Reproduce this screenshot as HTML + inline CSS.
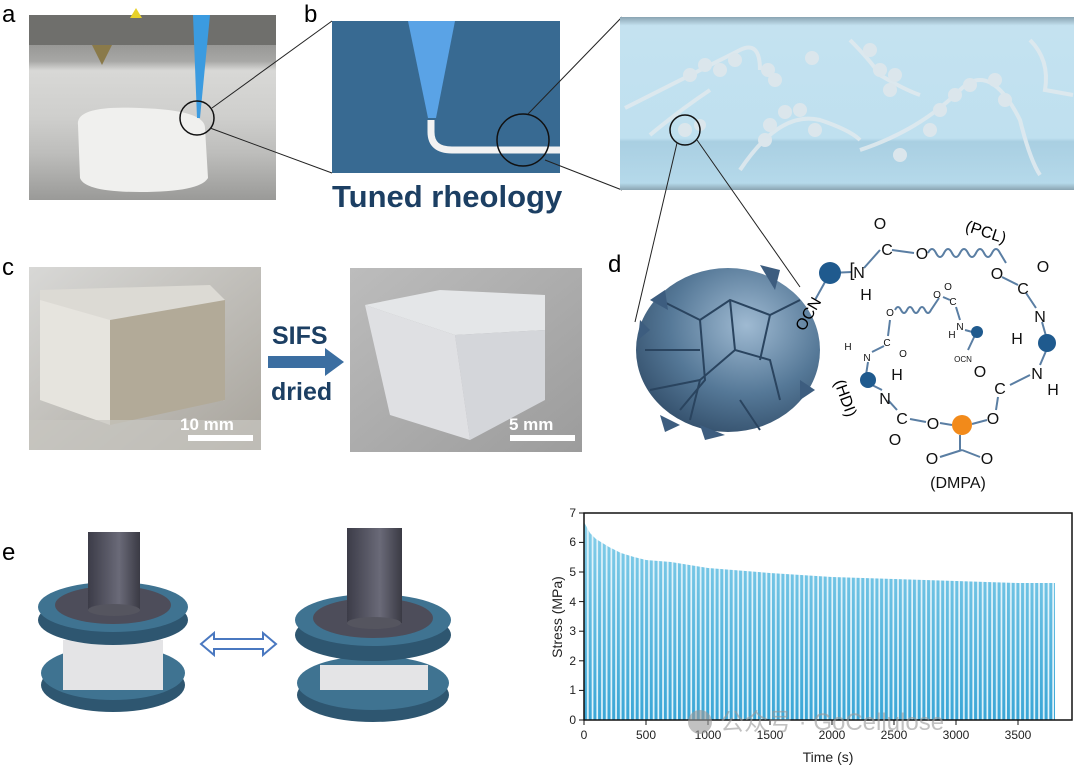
<!DOCTYPE html>
<html><head><meta charset="utf-8"><style>
body{margin:0;background:#fff;width:1074px;height:768px;overflow:hidden}
svg{display:block}
text{font-family:"Liberation Sans",Arial,sans-serif}
</style></head><body>
<svg width="1074" height="768" viewBox="0 0 1074 768" xmlns="http://www.w3.org/2000/svg">
<defs>
<linearGradient id="pa" x1="0" y1="0" x2="0" y2="1">
<stop offset="0" stop-color="#7a7a78"/><stop offset="0.25" stop-color="#a8a8a6"/><stop offset="0.3" stop-color="#d8d8d6"/><stop offset="0.55" stop-color="#cfcfcd"/><stop offset="0.75" stop-color="#bdbdbb"/><stop offset="1" stop-color="#9a9a98"/></linearGradient>
<linearGradient id="tube" x1="0" y1="0" x2="0" y2="1">
<stop offset="0" stop-color="#8aa4b2"/><stop offset="0.05" stop-color="#c4e2f0"/><stop offset="0.7" stop-color="#bfe0ef"/><stop offset="0.72" stop-color="#a9cfe2"/><stop offset="0.96" stop-color="#b5d9ea"/><stop offset="1" stop-color="#8aa4b2"/></linearGradient>
<linearGradient id="c1" x1="0" y1="0" x2="1" y2="1">
<stop offset="0" stop-color="#d8d8d6"/><stop offset="1" stop-color="#a8a49c"/></linearGradient>
<linearGradient id="c2" x1="0" y1="0" x2="1" y2="1">
<stop offset="0" stop-color="#bcbcbc"/><stop offset="1" stop-color="#9c9c9c"/></linearGradient>
<radialGradient id="sph" cx="0.6" cy="0.35" r="0.7">
<stop offset="0" stop-color="#9fbad2"/><stop offset="0.6" stop-color="#557897"/><stop offset="1" stop-color="#34506c"/></radialGradient>
<linearGradient id="rod" x1="0" y1="0" x2="1" y2="0">
<stop offset="0" stop-color="#3c3c48"/><stop offset="0.6" stop-color="#6a6a78"/><stop offset="1" stop-color="#3a3a44"/></linearGradient>
<linearGradient id="bar" x1="0" y1="0" x2="0" y2="1">
<stop offset="0" stop-color="#8fd4ec"/><stop offset="1" stop-color="#3aa6d6"/></linearGradient>
<pattern id="stripes" x="584" y="500" width="4.7" height="220" patternUnits="userSpaceOnUse">
<rect width="4.7" height="220" fill="#e2f3fa"/><rect width="3" height="220" fill="url(#bar)"/></pattern>
<clipPath id="env"><path d="M584,720 L584,522 590,533 596,539 609,547 621,553 634,557 646,560 671,562 708,568 770,573 832,577 894,579 956,581 1018,583 1055,583 1055,720Z"/></clipPath>
</defs>

<!-- panel a -->
<text x="2" y="22" font-size="24">a</text>
<rect x="29" y="15" width="247" height="185" fill="url(#pa)"/>
<rect x="29" y="15" width="247" height="30" fill="#6f6f6c"/>
<polygon points="130,18 142,18 136,8" fill="#e8d12a"/>
<polygon points="92,45 112,45 102,65" fill="#8a7a4a"/>
<path d="M78,125 Q75,105 140,108 Q205,110 205,128 L208,178 Q200,192 140,192 Q85,192 80,178Z" fill="#f0f0ee"/>
<polygon points="193,15 210,15 200,118 197,118" fill="#3b9be0"/>
<circle cx="197" cy="118" r="17" fill="none" stroke="#111" stroke-width="1.5"/>
<line x1="212" y1="108" x2="332" y2="21" stroke="#222" stroke-width="1"/>
<line x1="210" y1="128" x2="332" y2="173" stroke="#222" stroke-width="1"/>

<!-- panel b -->
<text x="304" y="22" font-size="24">b</text>
<rect x="332" y="21" width="228" height="152" fill="#386a92"/>
<polygon points="408,21 455,21 436,118 428,118" fill="#5aa3e6"/>
<path d="M431,120 L431,132 Q431,150 452,150 L560,150" fill="none" stroke="#f2f2f2" stroke-width="7"/>
<circle cx="523" cy="140" r="26" fill="none" stroke="#111" stroke-width="1.5"/>
<line x1="528" y1="114" x2="622" y2="17" stroke="#222" stroke-width="1"/>
<line x1="545" y1="160" x2="622" y2="190" stroke="#222" stroke-width="1"/>
<text x="332" y="207" font-size="31" font-weight="bold" fill="#1c3f63">Tuned rheology</text>

<!-- tube -->
<rect x="620" y="17" width="454" height="173" fill="url(#tube)"/>
<g fill="none" stroke="#dfe9ee" stroke-width="4" opacity="0.9">
<path d="M625,108 Q700,70 740,50 Q760,40 760,70"/>
<path d="M650,135 Q680,110 710,90"/>
<path d="M740,170 Q780,110 820,120 Q850,130 860,140"/>
<path d="M860,150 Q920,130 960,90 Q990,60 1020,120 Q1030,160 1040,175"/>
<path d="M850,40 Q870,60 880,75 Q905,90 920,95"/>
<path d="M1030,40 Q1050,60 1045,90 L1073,95"/>
</g>
<g fill="#dbe6ec">
<circle cx="690" cy="75" r="7"/><circle cx="705" cy="65" r="7"/><circle cx="720" cy="70" r="7"/><circle cx="735" cy="60" r="7"/><circle cx="768" cy="70" r="7"/><circle cx="775" cy="80" r="7"/><circle cx="812" cy="58" r="7"/>
<circle cx="685" cy="130" r="7"/><circle cx="700" cy="125" r="6"/>
<circle cx="770" cy="125" r="7"/><circle cx="785" cy="112" r="7"/><circle cx="800" cy="110" r="7"/><circle cx="815" cy="130" r="7"/><circle cx="765" cy="140" r="7"/>
<circle cx="870" cy="50" r="7"/><circle cx="880" cy="70" r="7"/><circle cx="895" cy="75" r="7"/><circle cx="890" cy="90" r="7"/>
<circle cx="940" cy="110" r="7"/><circle cx="955" cy="95" r="7"/><circle cx="970" cy="85" r="7"/><circle cx="995" cy="80" r="7"/><circle cx="1005" cy="100" r="7"/><circle cx="930" cy="130" r="7"/><circle cx="900" cy="155" r="7"/>
</g>
<circle cx="685" cy="130" r="15" fill="none" stroke="#111" stroke-width="1.5"/>
<line x1="677" y1="143" x2="635" y2="322" stroke="#222" stroke-width="1"/>
<line x1="697" y1="140" x2="800" y2="287" stroke="#222" stroke-width="1"/>

<!-- panel c -->
<text x="2" y="275" font-size="24">c</text>
<rect x="29" y="267" width="232" height="183" fill="url(#c1)"/>
<polygon points="40,290 210,285 225,300 225,400 110,420 40,395" fill="#dcdad4"/>
<polygon points="110,320 225,300 225,400 110,425" fill="#b2aa98"/>
<polygon points="40,300 110,320 110,425 40,400" fill="#e6e4de"/>
<rect x="29" y="420" width="232" height="30" fill="#c8c6c0" opacity="0.7"/>
<text x="180" y="430" font-size="17" font-weight="bold" fill="#fff">10 mm</text>
<rect x="188" y="435" width="65" height="6" fill="#fff"/>
<text x="272" y="344" font-size="25" font-weight="bold" fill="#1c3f63">SIFS</text>
<polygon points="268,356 325,356 325,348 344,362 325,376 325,368 268,368" fill="#3b6ea1"/>
<text x="271" y="400" font-size="25" font-weight="bold" fill="#1c3f63">dried</text>
<rect x="350" y="268" width="232" height="184" fill="url(#c2)"/>
<polygon points="365,305 440,290 545,295 545,330 455,335" fill="#e4e6e8"/>
<polygon points="455,335 545,330 545,400 470,440" fill="#d4d6da"/>
<polygon points="365,305 455,335 470,440 390,415" fill="#dfe0e3"/>
<text x="509" y="430" font-size="17" font-weight="bold" fill="#fff">5 mm</text>
<rect x="510" y="435" width="65" height="6" fill="#fff"/>

<!-- panel d -->
<text x="608" y="272" font-size="24">d</text>
<ellipse cx="728" cy="350" rx="92" ry="82" fill="url(#sph)"/>
<g stroke="#2a445f" stroke-width="2" fill="none">
<path d="M660,300 L700,320 L730,300 L770,315 L800,300"/><path d="M700,320 L705,380 L680,410"/><path d="M730,300 L735,350 L770,360 L780,400"/><path d="M735,350 L700,380 L690,420"/><path d="M645,350 L700,350"/><path d="M770,315 L760,360"/><path d="M650,390 L700,380"/><path d="M740,400 L760,430"/>
</g>
<g fill="#3d5d7f"><polygon points="760,265 780,270 775,290"/><polygon points="640,320 650,330 638,340"/><polygon points="800,380 815,390 800,400"/><polygon points="700,425 725,435 705,440"/><polygon points="650,300 665,290 668,310"/><polygon points="660,415 680,425 665,432"/></g>
<g stroke="#5a7ea3" stroke-width="2" fill="none">
<line x1="830" y1="273" x2="852" y2="272"/><line x1="864" y1="268" x2="880" y2="250"/><line x1="892" y1="250" x2="914" y2="253"/>
<path d="M928,253 q4,-8 8,0 q4,8 8,0 q4,-8 8,0 q4,8 8,0 q4,-8 8,0 q4,8 8,0 q4,-8 8,0 q4,8 8,0 q4,-8 8,0 l6,10"/>
<line x1="1002" y1="277" x2="1018" y2="285"/><line x1="1026" y1="293" x2="1036" y2="308"/><line x1="1042" y1="322" x2="1046" y2="336"/><line x1="1046" y1="351" x2="1040" y2="365"/><line x1="1030" y1="375" x2="1010" y2="385"/><line x1="998" y1="397" x2="996" y2="410"/><line x1="987" y1="420" x2="972" y2="424"/><line x1="952" y1="425" x2="940" y2="423"/><line x1="926" y1="422" x2="910" y2="419"/><line x1="960" y1="435" x2="960" y2="450"/><line x1="962" y1="450" x2="940" y2="457"/><line x1="962" y1="450" x2="980" y2="457"/>
<line x1="897" y1="410" x2="888" y2="400"/><line x1="882" y1="390" x2="870" y2="384"/><line x1="866" y1="375" x2="868" y2="362"/><line x1="872" y1="352" x2="884" y2="346"/><line x1="888" y1="336" x2="890" y2="320"/>
<path d="M895,310 q3,-6 6,0 q3,6 6,0 q3,-6 6,0 q3,6 6,0 q3,-6 6,0 q3,6 6,0 l8,-12"/>
<line x1="943" y1="297" x2="950" y2="300"/><line x1="956" y1="307" x2="960" y2="320"/><line x1="965" y1="330" x2="976" y2="333"/><line x1="976" y1="333" x2="968" y2="350"/>
<line x1="830" y1="273" x2="815" y2="300"/>
</g>
<g fill="#1f5a8e"><circle cx="830" cy="273" r="11"/><circle cx="1047" cy="343" r="9"/><circle cx="868" cy="380" r="8"/><circle cx="977" cy="332" r="6"/></g>
<circle cx="962" cy="425" r="10" fill="#f28a1a"/>
<g font-size="16" fill="#111" text-anchor="middle">
<text x="880" y="229">O</text><text x="887" y="255">C</text><text x="922" y="259">O</text><text x="859" y="278">N</text><text x="866" y="300">H</text><text x="852" y="276" font-size="18">[</text>
<text x="997" y="279">O</text><text x="1043" y="272">O</text><text x="1023" y="294">C</text><text x="1040" y="322">N</text><text x="1017" y="344">H</text><text x="1037" y="379">N</text><text x="1053" y="395">H</text><text x="1000" y="394">C</text><text x="980" y="377">O</text><text x="993" y="424">O</text><text x="933" y="429">O</text><text x="902" y="424">C</text><text x="895" y="445">O</text><text x="932" y="464">O</text><text x="987" y="464">O</text><text x="885" y="404">N</text><text x="897" y="380">H</text>
<text x="958" y="488">(DMPA)</text>
</g>
<g font-size="10" fill="#111" text-anchor="middle"><text x="867" y="361">N</text><text x="848" y="350">H</text><text x="887" y="346">C</text><text x="903" y="357">O</text><text x="890" y="316">O</text><text x="937" y="298">O</text><text x="953" y="305">C</text><text x="948" y="290">O</text><text x="960" y="330">N</text><text x="952" y="338">H</text><text x="963" y="362" font-size="8">OCN</text></g>
<text x="965" y="237" font-size="16" transform="rotate(18 985 232)">(PCL)</text>
<text x="0" y="0" font-size="16" transform="translate(834,382) rotate(70)">(HDI)</text>
<text x="0" y="0" font-size="16" transform="translate(804,332) rotate(-60)">OCN</text>

<!-- panel e -->
<text x="2" y="560" font-size="24">e</text>
<g>
<ellipse cx="113" cy="685" rx="72" ry="27" fill="#2e5670"/>
<ellipse cx="113" cy="673" rx="72" ry="27" fill="#3f7391"/>
<rect x="63" y="640" width="100" height="50" fill="#e4e4e6"/>
<ellipse cx="113" cy="620" rx="75" ry="25" fill="#2e5670"/>
<ellipse cx="113" cy="607" rx="75" ry="25" fill="#3f7391"/>
<ellipse cx="113" cy="605" rx="58" ry="19" fill="#4d4d5a"/>
<rect x="88" y="532" width="52" height="78" fill="url(#rod)"/>
<ellipse cx="114" cy="610" rx="26" ry="6" fill="#55555f"/>
</g>
<g>
<ellipse cx="373" cy="695" rx="76" ry="27" fill="#2e5670"/>
<ellipse cx="373" cy="683" rx="76" ry="27" fill="#3f7391"/>
<rect x="320" y="665" width="108" height="25" fill="#e4e4e6"/>
<ellipse cx="373" cy="635" rx="78" ry="26" fill="#2e5670"/>
<ellipse cx="373" cy="620" rx="78" ry="26" fill="#3f7391"/>
<ellipse cx="373" cy="618" rx="60" ry="20" fill="#4d4d5a"/>
<rect x="347" y="528" width="55" height="95" fill="url(#rod)"/>
<ellipse cx="374" cy="623" rx="27" ry="6" fill="#55555f"/>
</g>
<path d="M201,644 L214,633 L214,639 L263,639 L263,633 L276,644 L263,655 L263,649 L214,649 L214,655Z" fill="#fff" stroke="#4a78c0" stroke-width="2"/>

<!-- chart -->
<rect x="584" y="500" width="480" height="220" fill="url(#stripes)" clip-path="url(#env)"/>
<rect x="584" y="513" width="488" height="207" fill="none" stroke="#111" stroke-width="1.5"/>
<g stroke="#111" stroke-width="1">
<line x1="579" y1="720" x2="584" y2="720"/><line x1="579" y1="690.4" x2="584" y2="690.4"/><line x1="579" y1="660.8" x2="584" y2="660.8"/><line x1="579" y1="631.2" x2="584" y2="631.2"/><line x1="579" y1="601.6" x2="584" y2="601.6"/><line x1="579" y1="572" x2="584" y2="572"/><line x1="579" y1="542.4" x2="584" y2="542.4"/><line x1="579" y1="513" x2="584" y2="513"/>
<line x1="584" y1="720" x2="584" y2="725"/><line x1="646" y1="720" x2="646" y2="725"/><line x1="708" y1="720" x2="708" y2="725"/><line x1="770" y1="720" x2="770" y2="725"/><line x1="832" y1="720" x2="832" y2="725"/><line x1="894" y1="720" x2="894" y2="725"/><line x1="956" y1="720" x2="956" y2="725"/><line x1="1018" y1="720" x2="1018" y2="725"/>
</g>
<g font-size="12" fill="#222" text-anchor="end">
<text x="576" y="724">0</text><text x="576" y="694">1</text><text x="576" y="665">2</text><text x="576" y="635">3</text><text x="576" y="606">4</text><text x="576" y="576">5</text><text x="576" y="546">6</text><text x="576" y="517">7</text></g>
<g font-size="12" fill="#222" text-anchor="middle">
<text x="584" y="739">0</text><text x="646" y="739">500</text><text x="708" y="739">1000</text><text x="770" y="739">1500</text><text x="832" y="739">2000</text><text x="894" y="739">2500</text><text x="956" y="739">3000</text><text x="1018" y="739">3500</text>
<text x="828" y="762" font-size="14">Time (s)</text></g>
<text x="0" y="0" font-size="14" fill="#222" text-anchor="middle" transform="translate(562,617) rotate(-90)">Stress (MPa)</text>
<g fill="#999" opacity="0.6"><circle cx="700" cy="722" r="12"/>
<text x="720" y="730" font-size="24" font-family="'Liberation Sans','Noto Sans CJK SC',sans-serif">公众号 · GoCellulose</text></g>
</svg>
</body></html>
